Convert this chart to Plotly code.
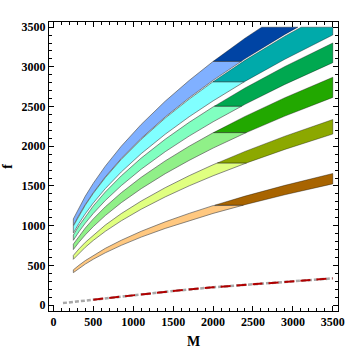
"""
plot.py
Frequency bands f(M) with light/dark split and a dashed reference line.
"""

import plotly.graph_objects as go


# shared M positions for the band edges
M_EDGE = [250, 270, 320, 400, 500, 650, 850, 1100, 1400, 1700, 2000, 2400, 2900, 3500]

BLUE_LOW = [1001, 1040, 1132, 1266, 1415, 1614, 1846, 2099, 2369, 2610, 2831, 3101, 3409, 3745]
BLUE_HIGH = [1085, 1127, 1227, 1372, 1534, 1749, 2000, 2275, 2567, 2828, 3068, 3361, 3694, 4058]
CYAN_LOW = [909, 945, 1029, 1150, 1286, 1466, 1676, 1907, 2151, 2371, 2571, 2817, 3096, 3402]
CYAN_HIGH = [995, 1034, 1125, 1258, 1407, 1604, 1834, 2086, 2354, 2593, 2813, 3082, 3387, 3721]
MINT_LOW = [816, 848, 923, 1032, 1154, 1316, 1504, 1711, 1931, 2128, 2308, 2528, 2779, 3053]
MINT_HIGH = [882, 917, 998, 1116, 1248, 1423, 1627, 1851, 2088, 2301, 2495, 2734, 3005, 3301]
GREEN_LOW = [699, 726, 791, 884, 988, 1127, 1289, 1466, 1654, 1822, 1977, 2165, 2380, 2615]
GREEN_HIGH = [767, 797, 868, 970, 1085, 1237, 1414, 1609, 1815, 2000, 2169, 2376, 2612, 2869]
OLIVE_LOW = [576, 598, 651, 728, 814, 928, 1061, 1207, 1362, 1501, 1628, 1783, 1960, 2154]
OLIVE_HIGH = [625, 649, 707, 790, 883, 1007, 1152, 1310, 1478, 1629, 1767, 1935, 2127, 2337]
ORANGE_LOW = [408, 424, 462, 516, 577, 658, 752, 856, 965, 1064, 1154, 1264, 1389, 1526]
ORANGE_HIGH = [443, 460, 501, 560, 626, 714, 816, 929, 1048, 1154, 1252, 1372, 1508, 1657]

# f value where each band turns from light to dark
SPLIT_F = [3070, 2812, 2505, 2172, 1790, 1258]
F_MAX = 3500

LIGHT_COLORS = ["#80B0FF", "#80FFFF", "#80FFC0", "#90F088", "#E0FF80", "#FFC880"]
DARK_COLORS = ["#0044A4", "#00AAAA", "#00A850", "#22A800", "#8CA800", "#A86400"]

# dashed reference line
LINE_M = [120, 500, 1000, 1500, 2000, 2500, 3000, 3500]
LINE_F = [25, 68, 124, 177, 224, 264, 300, 336]

SERIF = "Liberation Serif"


def clip_band(xs, ys, lo, hi):
    """Clip a closed polygon to lo <= y <= hi (Sutherland-Hodgman on two lines)."""
    pts = list(zip(xs, ys))
    for bound, keep_below in ((hi, True), (lo, False)):
        if bound is None or not pts:
            continue
        inside = (lambda p: p[1] <= bound) if keep_below else (lambda p: p[1] >= bound)
        out = []
        for i, cur in enumerate(pts):
            prev = pts[i - 1]
            if inside(cur):
                if not inside(prev):
                    t = (bound - prev[1]) / (cur[1] - prev[1])
                    out.append((prev[0] + t * (cur[0] - prev[0]), bound))
                out.append(cur)
            elif inside(prev):
                t = (bound - prev[1]) / (cur[1] - prev[1])
                out.append((prev[0] + t * (cur[0] - prev[0]), bound))
        pts = out
    if not pts:
        return [], []
    pts.append(pts[0])
    return [p[0] for p in pts], [p[1] for p in pts]


bands = [
    (BLUE_LOW, BLUE_HIGH),
    (CYAN_LOW, CYAN_HIGH),
    (MINT_LOW, MINT_HIGH),
    (GREEN_LOW, GREEN_HIGH),
    (OLIVE_LOW, OLIVE_HIGH),
    (ORANGE_LOW, ORANGE_HIGH),
]

fig = go.Figure()

for i, (low, high) in enumerate(bands):
    poly_x = M_EDGE + M_EDGE[::-1]
    poly_y = low + high[::-1]
    lx, ly = clip_band(poly_x, poly_y, None, SPLIT_F[i])
    dx, dy = clip_band(poly_x, poly_y, SPLIT_F[i], F_MAX)
    fig.add_trace(go.Scatter(
        x=lx, y=ly, mode="lines", fill="toself",
        fillcolor=LIGHT_COLORS[i],
        line=dict(color="rgba(90,90,90,0.7)", width=1),
        hoverinfo="skip", showlegend=False,
    ))
    fig.add_trace(go.Scatter(
        x=dx, y=dy, mode="lines", fill="toself",
        fillcolor=DARK_COLORS[i],
        line=dict(color="rgba(0,0,0,0.35)", width=1),
        hoverinfo="skip", showlegend=False,
    ))

fig.add_trace(go.Scatter(
    x=LINE_M, y=LINE_F, mode="lines",
    line=dict(color="#A8A8A8", width=2.5, dash="4px,2px"),
    hoverinfo="skip", showlegend=False,
))
fig.add_trace(go.Scatter(
    x=LINE_M[1:], y=LINE_F[1:], mode="lines",
    line=dict(color="#B00000", width=2, dash="10px,6px"),
    hoverinfo="skip", showlegend=False,
))

axis_common = dict(
    dtick=500, tick0=0,
    ticks="inside", ticklen=5, tickwidth=1, tickcolor="black",
    minor=dict(dtick=100, tick0=0, ticks="inside", ticklen=3, tickcolor="black", showgrid=False),
    showline=True, linecolor="black", linewidth=1, mirror="allticks",
    showgrid=False, zeroline=False, automargin=False,
    tickfont=dict(family=SERIF, size=12, color="black", weight="bold"),
)

fig.update_layout(
    width=360, height=351,
    paper_bgcolor="white",
    plot_bgcolor="white",
    margin=dict(l=49, r=22, t=22, b=40),
    xaxis=dict(
        range=[-55, 3565],
        title=dict(text="M", font=dict(family=SERIF, size=14, color="black", weight="bold"), standoff=7),
        **axis_common,
    ),
    yaxis=dict(
        range=[-75, 3565],
        title=dict(text="f", font=dict(family=SERIF, size=14, color="black", weight="bold"), standoff=5),
        **axis_common,
    ),
)

# the page body has a default 8px margin; drop it so the figure sits at 0,0
fig.write_html(
    "out.html",
    config={"displayModeBar": False},
    post_script="document.body.style.margin = '0';",
)
